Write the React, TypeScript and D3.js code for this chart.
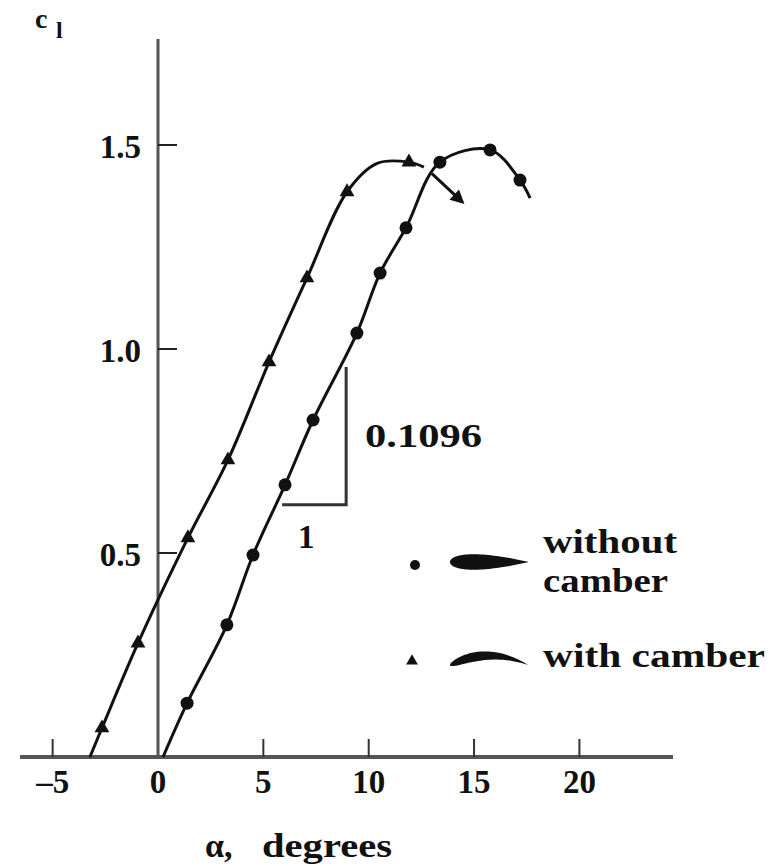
import React from "react";
import * as d3 from "d3";

// ---- data ----
const xTicks = [-5, 0, 5, 10, 15, 20];
const yTicks = [0.5, 1.0, 1.5];
const yTickLabels = ["0.5", "1.0", "1.5"];

// without camber (circles)
const plainAlpha = [1.38, 3.27, 4.51, 6.03, 7.36, 9.44, 10.54, 11.77, 13.38, 15.76, 17.18];
const plainCl = [0.132, 0.324, 0.495, 0.667, 0.826, 1.039, 1.186, 1.297, 1.458, 1.488, 1.414];
const plainFitStart = [0.24, 0];
const plainFitEnd = [17.66, 1.37];

// with camber (triangles)
const camberAlpha = [-2.66, -0.95, 1.42, 3.32, 5.27, 7.07, 8.97, 11.91];
const camberCl = [0.071, 0.279, 0.537, 0.728, 0.968, 1.174, 1.385, 1.458];
const camberFitStart = [-3.23, 0];
const camberFitBend = [10.4, 1.455];
const camberFitEnd = [12.62, 1.446];
const stallArrow = [[13.0, 1.43], [14.45, 1.36]];

// slope triangle
const slopeRun = [5.89, 8.93];
const slopeRise = [0.618, 0.956];
const slopeLabel = "0.1096";
const runLabel = "1";

const W = 776;
const H = 866;
const FONT = "'Liberation Serif', 'Times New Roman', serif";

export default function App() {
  const x = d3.scaleLinear().domain([0, 20]).range([158, 158 + 20 * 21.07]);
  const y = d3.scaleLinear().domain([0, 1.5]).range([757, 145]);
  const x0 = x(0);
  const y0 = y(0);

  const line = d3
    .line<number[]>()
    .x((d) => x(d[0]))
    .y((d) => y(d[1]))
    .curve(d3.curveCatmullRom.alpha(0.5));

  const plainPts = [plainFitStart, ...plainAlpha.map((a, i) => [a, plainCl[i]]), plainFitEnd];
  const camberMarks = camberAlpha.map((a, i) => [a, camberCl[i]]);
  const camberPts = [
    camberFitStart,
    ...camberMarks.slice(0, 7),
    camberFitBend,
    camberMarks[7],
    camberFitEnd,
  ];

  const tri = d3.symbol().type(d3.symbolTriangle).size(95)() as string;
  const triSmall = d3.symbol().type(d3.symbolTriangle).size(60)() as string;

  // arrow geometry
  const ax1 = x(stallArrow[0][0]);
  const ay1 = y(stallArrow[0][1]);
  const ax2 = x(stallArrow[1][0]);
  const ay2 = y(stallArrow[1][1]);
  const ang = (Math.atan2(ay2 - ay1, ax2 - ax1) * 180) / Math.PI;

  // airfoil shapes for legend
  const foil = (len: number, thick: number, camber: number) => {
    const n = 40;
    const upper: [number, number][] = [];
    const lower: [number, number][] = [];
    for (let i = 0; i <= n; i++) {
      const t = i / n;
      const xc = t * t;
      const yt =
        5 * thick *
        (0.2969 * Math.sqrt(xc) - 0.126 * xc - 0.3516 * xc * xc + 0.2843 * xc ** 3 - 0.1015 * xc ** 4);
      const yc = camber * 4 * xc * (1 - xc);
      upper.push([xc * len, -(yc + yt) * len]);
      lower.push([xc * len, -(yc - yt) * len]);
    }
    const pts = [...upper, ...lower.reverse()];
    return "M" + pts.map((p) => p[0].toFixed(2) + "," + p[1].toFixed(2)).join("L") + "Z";
  };

  const ticksLen = 18;

  return (
    <svg
      width={W}
      height={H}
      style={{ position: "absolute", left: 0, top: 0, background: "#fff" }}
      fontFamily={FONT}
      fontWeight="bold"
    >
      <rect width={W} height={H} fill="#fff" />
      {/* axes */}
      <line x1={x0} x2={x0} y1={39} y2={y0} stroke="#555" strokeWidth={3} />
      <line x1={20} x2={673} y1={y0} y2={y0} stroke="#555" strokeWidth={4} />
      {xTicks.map((t) => (
        <g key={"xt" + t}>
          {t !== 0 && (
            <line x1={x(t)} x2={x(t)} y1={y0} y2={y0 - ticksLen} stroke="#333" strokeWidth={2} />
          )}
          <text x={x(t)} y={793} textAnchor="middle" fontSize={33} fill="#111">
            {t < 0 ? "\u2013" + Math.abs(t) : String(t)}
          </text>
        </g>
      ))}
      {yTicks.map((t, i) => (
        <g key={"yt" + t}>
          <line x1={x0} x2={x0 + 19} y1={y(t)} y2={y(t)} stroke="#222" strokeWidth={2} />
          <text x={141} y={y(t) + 13} textAnchor="end" fontSize={33} fill="#111">
            {yTickLabels[i]}
          </text>
        </g>
      ))}
      {/* axis titles */}
      <text x={35} y={28} fontSize={28} fill="#111">c</text>
      <text x={56} y={38} fontSize={24} fill="#111">l</text>
      <text x={205} y={857} fontSize={34} fill="#111">α,</text>
      <text x={262} y={857} fontSize={34} fill="#111" textLength={130} lengthAdjust="spacingAndGlyphs">
        degrees
      </text>

      {/* curves */}
      <path d={line(plainPts) ?? ""} fill="none" stroke="#111" strokeWidth={3} />
      <path d={line(camberPts) ?? ""} fill="none" stroke="#111" strokeWidth={3} />
      <line x1={ax1} y1={ay1} x2={ax2} y2={ay2} stroke="#111" strokeWidth={3} />
      <path
        d="M0,0L-14,-7L-14,7Z"
        transform={`translate(${ax2 + 2},${ay2 + 2}) rotate(${ang})`}
        fill="#111"
      />

      {/* markers */}
      {plainAlpha.map((a, i) => (
        <circle key={"c" + i} cx={x(a)} cy={y(plainCl[i])} r={6.5} fill="#111" />
      ))}
      {camberMarks.map((p, i) => (
        <path key={"t" + i} d={tri} transform={`translate(${x(p[0])},${y(p[1])})`} fill="#111" />
      ))}

      {/* slope triangle */}
      <polyline
        points={`${x(slopeRun[0])},${y(slopeRise[0])} ${x(slopeRun[1])},${y(slopeRise[0])} ${x(slopeRun[1])},${y(slopeRise[1])}`}
        fill="none"
        stroke="#333"
        strokeWidth={3}
      />
      <text x={365} y={447} fontSize={33} fill="#111" textLength={117} lengthAdjust="spacingAndGlyphs">
        {slopeLabel}
      </text>
      <text x={298} y={548} fontSize={33} fill="#111">{runLabel}</text>

      {/* legend */}
      <circle cx={415} cy={565} r={5} fill="#111" />
      <path d={foil(78, 0.2, 0)} transform="translate(450,562)" fill="#111" />
      <text x={543} y={553} fontSize={33} fill="#111" textLength={134} lengthAdjust="spacingAndGlyphs">
        without
      </text>
      <text x={543} y={592} fontSize={33} fill="#111" textLength={125} lengthAdjust="spacingAndGlyphs">
        camber
      </text>
      <path d={triSmall} transform="translate(412,661)" fill="#111" />
      <path d={foil(78, 0.12, 0.12)} transform="translate(450,665)" fill="#111" />
      <text x={543} y={667} fontSize={33} fill="#111" textLength={222} lengthAdjust="spacingAndGlyphs">
        with  camber
      </text>
    </svg>
  );
}
